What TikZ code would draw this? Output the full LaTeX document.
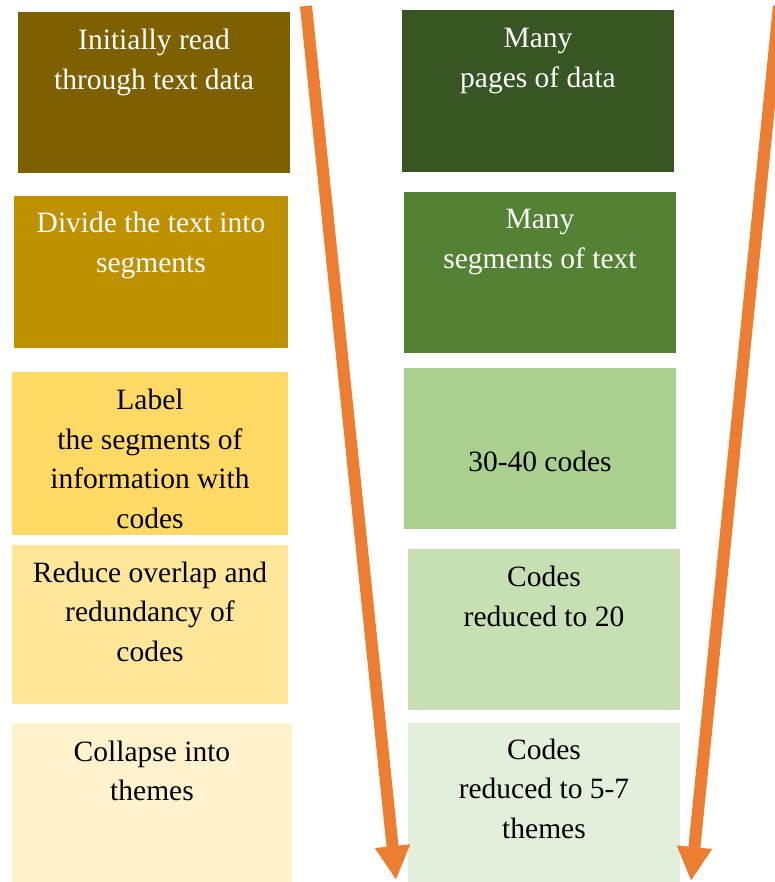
\documentclass[tikz,border=0pt]{standalone}
\usepackage{fontspec}
\setmainfont{Liberation Serif}
\usetikzlibrary{arrows.meta}

% box colours, left (steps) and right (data) columns
\definecolor{lA}{HTML}{7F6000}
\definecolor{lB}{HTML}{BF9000}
\definecolor{lC}{HTML}{FFD966}
\definecolor{lD}{HTML}{FFE699}
\definecolor{lE}{HTML}{FFF2CC}
\definecolor{rA}{HTML}{375623}
\definecolor{rB}{HTML}{548235}
\definecolor{rC}{HTML}{A9D08E}
\definecolor{rD}{HTML}{C6E0B4}
\definecolor{rE}{HTML}{E2EFDA}
\definecolor{flow}{HTML}{ED7D31}

% text block of a box: width, height, first baseline, lines
\newcommand{\boxtxt}[4]{%
  \begin{minipage}[c][#2pt][t]{#1pt}\centering
  \fontsize{29.5}{39.5}\selectfont\rule{0pt}{#3pt}#4\end{minipage}}

\begin{document}
\begin{tikzpicture}[x=1pt,y=-1pt,
  stepbox/.style={rectangle,inner sep=0pt,outer sep=0pt,draw=none,anchor=north west},
  flowarrow/.style={draw=flow,line width=12pt,
    -{Triangle[width=33pt,length=34pt]}}]
\useasboundingbox (0,0) rectangle (775,882);
\begin{scope}
\clip (0,0) rectangle (775,882);

% left column
\node[stepbox,fill=lA,text=white] (l1) at (18,12)
  {\boxtxt{272}{161}{38}{Initially read\\through text data}};
\node[stepbox,fill=lB,text=white] (l2) at (14,196)
  {\boxtxt{274}{152}{37}{Divide the text into\\segments}};
\node[stepbox,fill=lC,text=black] (l3) at (12,372)
  {\boxtxt{276}{163}{37.5}{Label\\the segments of\\information with\\codes}};
\node[stepbox,fill=lD,text=black] (l4) at (12,545)
  {\boxtxt{276}{159}{37}{Reduce overlap and\\redundancy of\\codes}};
\node[stepbox,fill=lE,text=black] (l5) at (12,723)
  {\boxtxt{280}{159}{38}{Collapse into\\themes}};

% right column
\node[stepbox,fill=rA,text=white] (r1) at (402,10)
  {\boxtxt{272}{162}{38}{Many\\pages of data}};
\node[stepbox,fill=rB,text=white] (r2) at (404,192)
  {\boxtxt{272}{161}{37}{Many\\segments of text}};
\node[stepbox,fill=rC,text=black] (r3) at (404,368)
  {\boxtxt{272}{161}{103}{30-40 codes}};
\node[stepbox,fill=rD,text=black] (r4) at (408,549)
  {\boxtxt{272}{161}{37.5}{Codes\\reduced to 20}};
\node[stepbox,fill=rE,text=black] (r5) at (408,723)
  {\boxtxt{272}{159}{36}{Codes\\reduced to 5-7\\themes}};

% funnel arrows
\coordinate (a1s) at (306,6);
\coordinate (a1e) at (396,880);
\coordinate (a2s) at (779,6);
\coordinate (a2e) at (691,881);
\draw[flowarrow] (a1s) -- (a1e);
\draw[flowarrow] (a2s) -- (a2e);
\end{scope}
\end{tikzpicture}
\end{document}
